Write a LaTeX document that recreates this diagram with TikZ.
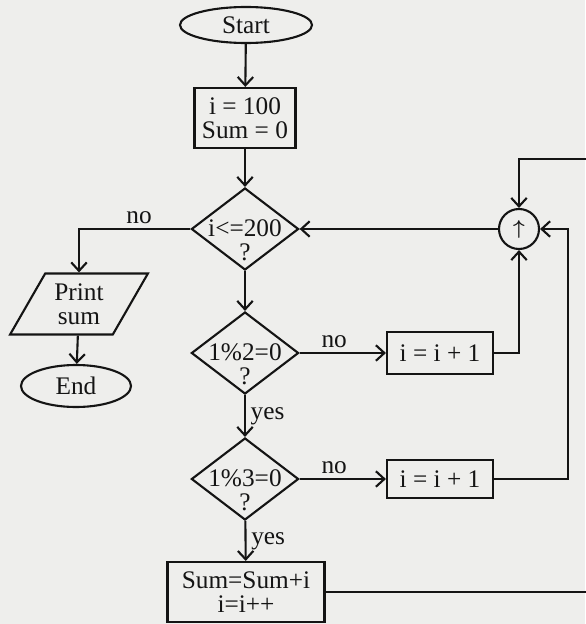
\documentclass[tikz,border=0pt]{standalone}
\usepackage{amsmath}
\usepackage{fontspec}
\setmainfont{Liberation Serif}
\definecolor{Paper}{RGB}{238, 238, 236}
\definecolor{Ink}{RGB}{20, 20, 20}
\usetikzlibrary{arrows.meta, positioning, shapes}

\begin{document}
\begin{tikzpicture}[x=0.025cm, y=-0.025cm,
  every node/.style={font=\fontsize{18}{17}\selectfont, align=center, text=Ink},
  term/.style={ellipse, draw=Ink, line width=1.5pt, inner sep=0pt},
  proc/.style={rectangle, draw=Ink, line width=1.5pt, inner sep=2pt},
  dec/.style={diamond, draw=Ink, line width=1.5pt, inner sep=0pt,
              minimum width=2.68cm, minimum height=2.05cm},
  io/.style={trapezium, trapezium left angle=58, trapezium right angle=122,
             trapezium stretches=true, draw=Ink, line width=1.5pt, inner sep=0pt},
  arr/.style={draw=Ink, line width=1.5pt, -{Straight Barb[length=6pt, width=11pt]}}]
\useasboundingbox[fill=Paper] (0,0) rectangle (585,624);

\node[term, minimum width=3.3cm, minimum height=0.9cm] (start) at (246,25) {Start};
\node[proc, minimum width=2.525cm, minimum height=1.5cm] (init) at (245,118) {i = 100\\Sum = 0};
\node[dec, label={[yshift=-0.28cm]center:i<=200\\?}] (d1) at (245,229) {};
\node[io, minimum width=3.45cm, minimum height=1.525cm] (print) at (79,304) {Print\\sum};
\node[term, minimum width=2.75cm, minimum height=1.05cm] (end) at (76,386) {End};
\node[dec, label={[yshift=-0.28cm]center:1\%2=0\\?}] (d2) at (245,353) {};
\node[proc, minimum width=2.65cm, minimum height=1.05cm] (inc1) at (440,353) {i = i + 1};
\node[circle, draw=Ink, line width=1.5pt, minimum size=1cm, inner sep=0pt,
      font=\Large] (join) at (519,229) {$\boldsymbol{\uparrow}$};
\node[dec, label={[yshift=-0.28cm]center:1\%3=0\\?}] (d3) at (245,479) {};
\node[proc, minimum width=2.65cm, minimum height=0.95cm] (inc2) at (440,479) {i = i + 1};
\node[proc, minimum width=3.925cm, minimum height=1.5cm] (sum) at (246,592) {Sum=Sum+i\\i=i++};

\coordinate (back1) at (568,479);
\coordinate (back2) at (592,159);

% main line
\draw[arr] (start) -- (init);
\draw[arr] (init) -- (d1);
\draw[arr] (d1.west) -| node[above, pos=0.23] {no} (print.north);
\draw[arr] (print) -- (end);
\draw[arr] (d1) -- (d2);
\draw[arr] (d2) -- node[right] {yes} (d3);
\draw[arr] (d3) -- node[right] {yes} (sum);

% no branches
\draw[arr] (d2) -- node[above, pos=0.4] {no} (inc1);
\draw[arr] (d3) -- node[above, pos=0.4] {no} (inc2);

% loops back
\draw[arr] (inc1.east) -| (join.south);
\draw[arr] (inc2.east) -- (back1) |- (join.east);
\draw[arr] (sum.east) -| (back2) -| (join.north);
\draw[arr] (join) -- (d1);
\end{tikzpicture}
\end{document}
